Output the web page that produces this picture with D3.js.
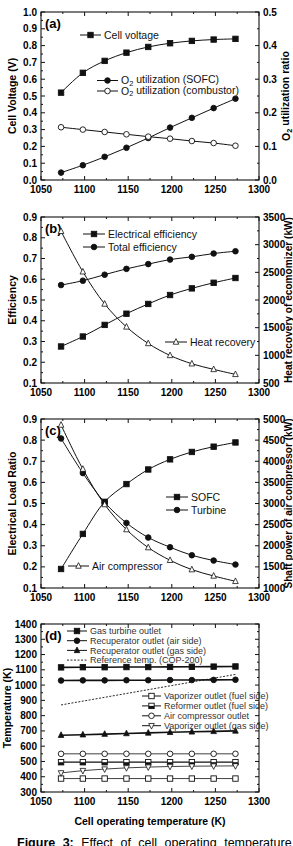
<!DOCTYPE html>
<html>
<head>
<meta charset="utf-8">
<script src="https://cdn.jsdelivr.net/npm/d3@7"></script>
<style>
  body { margin: 0; background: #fff; }
  svg { display: block; }
  text { font-family: "Liberation Sans", Arial, sans-serif; }
</style>
</head>
<body>
<svg id="fig" width="293" height="846"></svg>
<script>
// cell operating temperature (K)
const temps = [1073, 1098, 1123, 1148, 1173, 1198, 1223, 1248, 1273];

// (a)
const cellVoltage = [0.52, 0.638, 0.709, 0.758, 0.792, 0.814, 0.828, 0.836, 0.84];
const o2Sofc = [0.022, 0.044, 0.069, 0.096, 0.125, 0.156, 0.185, 0.214, 0.242];
const o2Combustor = [0.157, 0.15, 0.143, 0.136, 0.129, 0.123, 0.116, 0.11, 0.102];

// (b)
const elecEff = [0.276, 0.324, 0.38, 0.434, 0.481, 0.524, 0.556, 0.583, 0.606];
const totalEff = [0.572, 0.593, 0.622, 0.65, 0.673, 0.695, 0.708, 0.724, 0.735];
const heatRecovery = [3242, 2510, 1928, 1514, 1214, 998, 848, 746, 656];

// (c)
const sofcLoad = [0.19, 0.356, 0.508, 0.592, 0.661, 0.709, 0.744, 0.769, 0.789];
const turbineLoad = [0.808, 0.644, 0.505, 0.408, 0.339, 0.293, 0.255, 0.23, 0.211];
const airCompPower = [4858, 3814, 2976, 2383, 1956, 1656, 1435, 1285, 1158];

// (d)
const gasTurbineOut = [1116, 1117, 1117, 1118, 1118, 1119, 1120, 1121, 1122];
const recupAirOut = [1030, 1031, 1031, 1032, 1032, 1033, 1033, 1034, 1035];
const recupGasOut = [672, 675, 679, 683, 687, 691, 694, 697, 700];
const refTempX = [1073, 1273];
const refTemp = [870, 1070];
const vapFuelOut = [388, 388, 388, 388, 388, 388, 388, 388, 388];
const reformerOut = [495, 495, 495, 495, 495, 495, 495, 495, 495];
const airCompOut = [550, 550, 550, 550, 550, 550, 550, 550, 550];
const vapGasOut = [425, 440, 450, 458, 463, 467, 469, 470, 471];

const svg = d3.select("#fig");
const L = 41, R = 259;
const TICK_FS = 10, TITLE_FS = 10.5;

const x = d3.scaleLinear().domain([1050, 1300]).range([L, R]);
const xTicks = d3.range(1050, 1301, 50);
const xMinor = d3.range(1075, 1300, 50);

function marker(g, type, cx, cy) {
  const s = 5.4;
  if (type === "sq" || type === "sqOpen") {
    g.append("rect").attr("x", cx - s / 2).attr("y", cy - s / 2)
      .attr("width", s).attr("height", s)
      .attr("fill", type === "sq" ? "#111" : "#fff").attr("stroke", "#111").attr("stroke-width", 0.9);
  } else if (type === "sqHalf") {
    g.append("rect").attr("x", cx - s / 2).attr("y", cy - s / 2)
      .attr("width", s).attr("height", s).attr("fill", "#fff").attr("stroke", "#111").attr("stroke-width", 0.9);
    g.append("rect").attr("x", cx - s / 2).attr("y", cy)
      .attr("width", s).attr("height", s / 2).attr("fill", "#111");
  } else if (type === "dot" || type === "circOpen") {
    g.append("circle").attr("cx", cx).attr("cy", cy).attr("r", 2.8)
      .attr("fill", type === "dot" ? "#111" : "#fff").attr("stroke", "#111").attr("stroke-width", 0.9);
  } else if (type === "tri" || type === "triOpen") {
    const h = 5.6;
    g.append("path")
      .attr("d", `M${cx},${cy - h * 0.6}L${cx + h / 2},${cy + h * 0.4}L${cx - h / 2},${cy + h * 0.4}Z`)
      .attr("fill", type === "tri" ? "#111" : "#fff").attr("stroke", "#111").attr("stroke-width", 0.8);
  } else if (type === "triDown") {
    const h = 5.6;
    g.append("path")
      .attr("d", `M${cx},${cy + h * 0.6}L${cx + h / 2},${cy - h * 0.4}L${cx - h / 2},${cy - h * 0.4}Z`)
      .attr("fill", "#fff").attr("stroke", "#111").attr("stroke-width", 0.8);
  }
}

function drawPanel(p) {
  const g = svg.append("g");
  const y = d3.scaleLinear().domain(p.yDomain).range([p.bottom, p.top]);
  const y2 = p.y2Domain ? d3.scaleLinear().domain(p.y2Domain).range([p.bottom, p.top]) : null;

  // frame
  g.append("rect").attr("x", L).attr("y", p.top).attr("width", R - L).attr("height", p.bottom - p.top)
    .attr("fill", "none").attr("stroke", "#111").attr("stroke-width", 1.1);

  // x ticks (bottom labeled, top mirrored)
  const ax = g.append("g");
  xTicks.forEach(t => {
    ax.append("line").attr("x1", x(t)).attr("x2", x(t)).attr("y1", p.bottom).attr("y2", p.bottom - 4).attr("stroke", "#111");
    ax.append("line").attr("x1", x(t)).attr("x2", x(t)).attr("y1", p.top).attr("y2", p.top + 4).attr("stroke", "#111");
    ax.append("text").attr("x", x(t)).attr("y", p.bottom + 13).attr("text-anchor", "middle")
      .attr("font-size", TICK_FS).attr("font-weight", "bold").text(t);
  });
  xMinor.forEach(t => {
    ax.append("line").attr("x1", x(t)).attr("x2", x(t)).attr("y1", p.bottom).attr("y2", p.bottom - 2).attr("stroke", "#111");
    ax.append("line").attr("x1", x(t)).attr("x2", x(t)).attr("y1", p.top).attr("y2", p.top + 2).attr("stroke", "#111");
  });

  // left y ticks
  const [y0, y1] = p.yDomain;
  const yt = d3.range(y0, y1 + p.yStep / 2, p.yStep);
  yt.forEach(t => {
    g.append("line").attr("x1", L).attr("x2", L + 4).attr("y1", y(t)).attr("y2", y(t)).attr("stroke", "#111");
    if (!y2) g.append("line").attr("x1", R).attr("x2", R - 4).attr("y1", y(t)).attr("y2", y(t)).attr("stroke", "#111");
    g.append("text").attr("x", L - 4).attr("y", y(t)).attr("dy", "0.35em").attr("text-anchor", "end")
      .attr("font-size", TICK_FS).attr("font-weight", "bold").text(p.yFormat(t));
  });
  yt.slice(0, -1).forEach(t => {
    const m = t + p.yStep / 2;
    g.append("line").attr("x1", L).attr("x2", L + 2).attr("y1", y(m)).attr("y2", y(m)).attr("stroke", "#111");
    if (!y2) g.append("line").attr("x1", R).attr("x2", R - 2).attr("y1", y(m)).attr("y2", y(m)).attr("stroke", "#111");
  });

  // right y ticks
  if (y2) {
    const [a0, a1] = p.y2Domain;
    const rt = d3.range(a0, a1 + p.y2Step / 2, p.y2Step);
    rt.forEach(t => {
      g.append("line").attr("x1", R).attr("x2", R - 4).attr("y1", y2(t)).attr("y2", y2(t)).attr("stroke", "#111");
      g.append("text").attr("x", R + 4).attr("y", y2(t)).attr("dy", "0.35em").attr("text-anchor", "start")
        .attr("font-size", TICK_FS).attr("font-weight", "bold").text(p.y2Format(t));
    });
    rt.slice(0, -1).forEach(t => {
      const m = t + p.y2Step / 2;
      g.append("line").attr("x1", R).attr("x2", R - 2).attr("y1", y2(m)).attr("y2", y2(m)).attr("stroke", "#111");
    });
  }

  // axis titles
  const cy = (p.top + p.bottom) / 2;
  const lt = g.append("text").attr("transform", `translate(${p.yTitleX},${cy}) rotate(-90)`)
    .attr("text-anchor", "middle").attr("font-size", TITLE_FS).attr("font-weight", "bold");
  p.yTitle(lt);
  if (p.y2Title) {
    const rtx = g.append("text").attr("transform", `translate(${p.y2TitleX},${cy}) rotate(-90)`)
      .attr("text-anchor", "middle").attr("font-size", p.y2Fs || TITLE_FS).attr("font-weight", "bold");
    if (p.y2Len) rtx.attr("textLength", p.y2Len).attr("lengthAdjust", "spacingAndGlyphs");
    p.y2Title(rtx);
  }

  // panel label
  g.append("text").attr("x", L + 4).attr("y", p.top + 16).attr("font-size", 13).attr("font-weight", "bold").text(p.label);

  // series
  p.series.forEach(s => {
    const ys = s.axis === 2 ? y2 : y;
    const xs = s.x || temps;
    const pts = xs.map((t, i) => [x(t), ys(s.values[i])]);
    g.append("path").attr("d", d3.line().curve(s.curve || d3.curveLinear)(pts))
      .attr("fill", "none").attr("stroke", "#111").attr("stroke-width", s.width || 1)
      .attr("stroke-dasharray", s.dash || null);
    if (s.marker) pts.forEach(([px, py]) => marker(g, s.marker, px, py));
  });

  // legends
  p.legends.forEach(lg => {
    lg.items.forEach((it, i) => {
      const ly = lg.y + i * lg.dy;
      g.append("line").attr("x1", lg.x).attr("x2", lg.x + lg.len).attr("y1", ly).attr("y2", ly)
        .attr("stroke", "#111").attr("stroke-width", it.width || 1).attr("stroke-dasharray", it.dash || null);
      if (it.marker) marker(g, it.marker, lg.x + lg.len / 2, ly);
      const tx = g.append("text").attr("x", lg.x + lg.len + 3).attr("y", ly).attr("dy", "0.35em")
        .attr("font-size", lg.fs).attr("fill", lg.color || "#111");
      it.label(tx);
    });
  });
}

function plain(s) { return t => t.text(s); }
function o2(rest) {
  return t => {
    t.append("tspan").text("O");
    t.append("tspan").attr("font-size", "0.7em").attr("dy", "0.22em").text("2");
    t.append("tspan").attr("dy", "-0.22em").text(rest);
  };
}

const smooth = d3.curveCatmullRom;
const f1 = d3.format(".1f");
const fi = d3.format("d");

drawPanel({
  label: "(a)", top: 12, bottom: 180,
  yDomain: [0, 1.0], yStep: 0.1, yFormat: f1,
  y2Domain: [0, 0.5], y2Step: 0.1, y2Format: f1,
  yTitleX: 16, yTitle: plain("Cell Voltage (V)"),
  y2TitleX: 290, y2Title: o2(" utilization ratio"),
  series: [
    { values: cellVoltage, marker: "sq", curve: smooth },
    { values: o2Sofc, axis: 2, marker: "dot", curve: smooth },
    { values: o2Combustor, axis: 2, marker: "circOpen", curve: smooth }
  ],
  legends: [
    { x: 80, y: 35, dy: 0, len: 21, fs: 10.5, items: [{ marker: "sq", label: plain("Cell voltage") }] },
    { x: 97, y: 80.5, dy: 10.5, len: 21, fs: 10.5, items: [
      { marker: "dot", label: o2(" utilization (SOFC)") },
      { marker: "circOpen", label: o2(" utilization (combustor)") }
    ] }
  ]
});

drawPanel({
  label: "(b)", top: 217, bottom: 383,
  yDomain: [0.1, 0.9], yStep: 0.1, yFormat: f1,
  y2Domain: [500, 3500], y2Step: 500, y2Format: fi,
  yTitleX: 16, yTitle: plain("Efficiency"),
  y2TitleX: 292, y2Fs: 10, y2Len: 166, y2Title: plain("Heat recovery of ecomomizer (kW)"),
  series: [
    { values: elecEff, marker: "sq", curve: smooth },
    { values: totalEff, marker: "dot", curve: smooth },
    { values: heatRecovery, axis: 2, marker: "triOpen", curve: smooth }
  ],
  legends: [
    { x: 83, y: 234, dy: 13, len: 22, fs: 10.5, items: [
      { marker: "sq", label: plain("Electrical efficiency") },
      { marker: "dot", label: plain("Total efficiency") }
    ] },
    { x: 165, y: 342, dy: 0, len: 22, fs: 10.5, items: [{ marker: "triOpen", label: plain("Heat recovery") }] }
  ]
});

drawPanel({
  label: "(c)", top: 419, bottom: 588,
  yDomain: [0.1, 0.9], yStep: 0.1, yFormat: f1,
  y2Domain: [1000, 5000], y2Step: 500, y2Format: fi,
  yTitleX: 16, yTitle: plain("Electrical Load Ratio"),
  y2TitleX: 292, y2Fs: 10, y2Len: 170, y2Title: plain("Shaft power of air compressor (kW)"),
  series: [
    { values: sofcLoad, marker: "sq", curve: smooth },
    { values: turbineLoad, marker: "dot", curve: smooth },
    { values: airCompPower, axis: 2, marker: "triOpen", curve: smooth }
  ],
  legends: [
    { x: 166, y: 497, dy: 13, len: 22, fs: 10.5, items: [
      { marker: "sq", label: plain("SOFC") },
      { marker: "dot", label: plain("Turbine") }
    ] },
    { x: 68, y: 566, dy: 0, len: 21, fs: 10.5, items: [{ marker: "triOpen", label: plain("Air compressor") }] }
  ]
});

drawPanel({
  label: "(d)", top: 624, bottom: 792,
  yDomain: [300, 1400], yStep: 100, yFormat: fi,
  yTitleX: 11, yTitle: plain("Temperature (K)"),
  series: [
    { values: gasTurbineOut, marker: "sq", width: 1.6 },
    { values: recupAirOut, marker: "dot", width: 1.6 },
    { values: recupGasOut, marker: "tri", width: 1.6 },
    { x: refTempX, values: refTemp, dash: "2,1.5", width: 0.9 },
    { values: vapFuelOut, marker: "sqOpen", width: 0.8 },
    { values: reformerOut, marker: "sqHalf", width: 1.2 },
    { values: airCompOut, marker: "circOpen", width: 0.8 },
    { values: vapGasOut, marker: "triDown", width: 0.8 }
  ],
  legends: [
    { x: 67, y: 631, dy: 9.7, len: 20, fs: 9, color: "#333", items: [
      { marker: "sq", label: plain("Gas turbine outlet") },
      { marker: "dot", label: plain("Recuperator outlet (air side)") },
      { marker: "tri", label: plain("Recuperator outlet (gas side)") },
      { dash: "2,1.5", width: 0.9, label: plain("Reference temp. (COP-200)") }
    ] },
    { x: 142, y: 696, dy: 9.9, len: 19, fs: 9, color: "#333", items: [
      { marker: "sqOpen", label: plain("Vaporizer outlet (fuel side)") },
      { marker: "sqHalf", label: plain("Reformer outlet (fuel side)") },
      { marker: "circOpen", label: plain("Air compressor outlet") },
      { marker: "triDown", label: plain("Vaporizer outlet (gas side)") }
    ] }
  ]
});

// bottom x axis title
svg.append("text").attr("x", (L + R) / 2).attr("y", 825).attr("text-anchor", "middle")
  .attr("font-size", TITLE_FS).attr("font-weight", "bold").text("Cell operating temperature (K)");

// caption (cut off at the page bottom, as in the source)
const cap = svg.append("text").attr("x", 17).attr("y", 847)
  .attr("font-family", "'Liberation Serif', 'DejaVu Serif', serif").attr("font-size", 12.5)
  .attr("word-spacing", 4);
cap.append("tspan").attr("font-weight", "bold").text("Figure 3:");
cap.append("tspan").text(" Effect of cell operating temperature");
</script>
</body>
</html>
